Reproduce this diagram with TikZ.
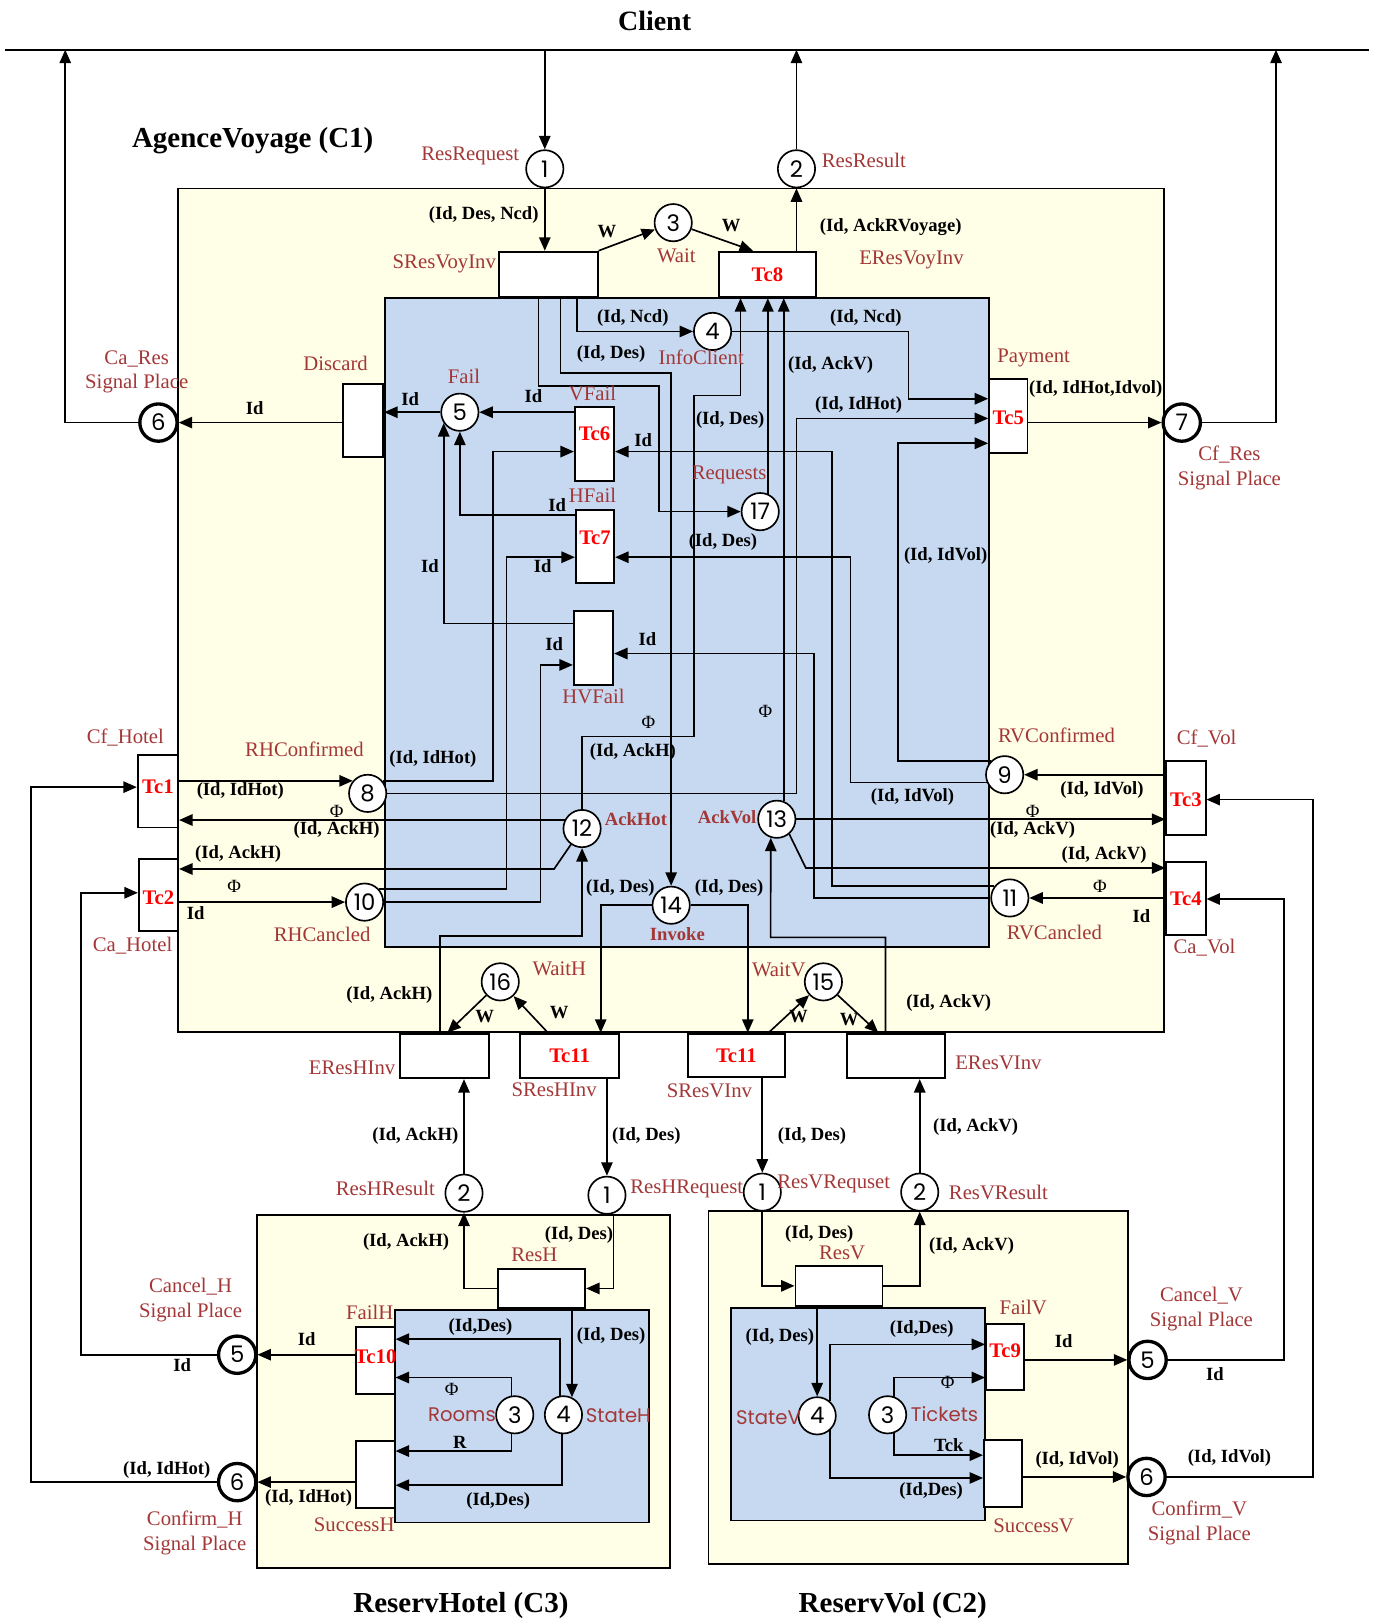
\documentclass[tikz,border=0pt]{standalone}
\usepackage{fontspec}
\setmainfont{Liberation Serif}
\newfontfamily\numfont{Poppins}
\usepackage{tikz}
\usetikzlibrary{arrows.meta}

\definecolor{boxyellow}{RGB}{255,254,230}
\definecolor{boxblue}{RGB}{198,217,240}
\definecolor{lblbrown}{RGB}{163,55,55}
\definecolor{tcred}{RGB}{255,0,0}

\begin{document}
\begin{tikzpicture}
[every node/.style={inner sep=0pt},
 >={Triangle[length=13pt, width=11pt]},
 place/.style={circle, minimum size=36pt, fill=white, line width=1.6pt, draw=black, font=\numfont\fontsize{22}{22}\selectfont},
 sigplace/.style={place, line width=3.2pt},
 trans/.style={rectangle, fill=white, line width=1.8pt, draw=black},
 tcname/.style={text=tcred, font=\bfseries\fontsize{20}{20}\selectfont},
 flow/.style={line width=1.6pt, ->, color=black},
 wire/.style={line width=1.6pt, color=black},
 lab/.style={text=lblbrown, font=\fontsize{20}{24}\selectfont, align=center},
 labsf/.style={text=lblbrown, font=\numfont\fontsize{19}{19}\selectfont},
 labb/.style={text=lblbrown, font=\bfseries\fontsize{18}{18}\selectfont},
 ins/.style={font=\bfseries\fontsize{18}{18}\selectfont},
 phi/.style={font=\fontsize{18}{18}\selectfont},
 heading/.style={font=\bfseries\fontsize{28}{28}\selectfont}]
\useasboundingbox (0pt, 0pt) rectangle (1330pt, -1568pt);

% component boxes
\filldraw [fill=boxyellow, line width=1.8pt] (172pt, -182pt) rectangle (1124pt, -996pt);
\filldraw [fill=boxblue, line width=1.8pt] (372pt, -288pt) rectangle (955pt, -914pt);
\filldraw [fill=boxyellow, line width=1.8pt] (248pt, -1173pt) rectangle (647pt, -1514pt);
\filldraw [fill=boxblue, line width=1.8pt] (381pt, -1265pt) rectangle (627pt, -1470pt);
\filldraw [fill=boxyellow, line width=1.8pt] (684pt, -1169pt) rectangle (1089pt, -1510pt);
\filldraw [fill=boxblue, line width=1.8pt] (706pt, -1263pt) rectangle (951pt, -1468pt);

% client line
\coordinate (clientL) at (5pt, -48pt);
\coordinate (clientR) at (1322pt, -48pt);
\coordinate (up6) at (63pt, -48pt);
\coordinate (up7) at (1232pt, -48pt);
\draw [wire] (clientL) -- (clientR);

% places of AgenceVoyage
\node (c1) [place] at (526pt, -163pt) {1};
\node (c2) [place] at (769pt, -163pt) {2};
\node (c3) [place] at (650pt, -215pt) {3};
\node (c4) [place] at (688pt, -320pt) {4};
\node (c5) [place] at (444pt, -398pt) {5};
\node (c6) [sigplace] at (153pt, -408pt) {6};
\node (c7) [sigplace] at (1141pt, -408pt) {7};
\node (c17) [place] at (734pt, -494pt) {17};
\node (c8) [place] at (355pt, -766pt) {8};
\node (c9) [place] at (970pt, -748pt) {9};
\node (c10) [place] at (352pt, -871pt) {10};
\node (c11) [place] at (975pt, -867pt) {11};
\node (c12) [place] at (562pt, -800pt) {12};
\node (c13) [place] at (750pt, -791pt) {13};
\node (c14) [place] at (648pt, -874pt) {14};
\node (c15) [place] at (795pt, -948pt) {15};
\node (c16) [place] at (483pt, -948pt) {16};

% places of ReservHotel and ReservVol
\node (h1) [place] at (586pt, -1154pt) {1};
\node (h2) [place] at (448pt, -1152pt) {2};
\node (h3) [place] at (497pt, -1366pt) {3};
\node (h4) [place] at (544pt, -1366pt) {4};
\node (h5) [sigplace] at (229pt, -1308pt) {5};
\node (h6) [sigplace] at (229pt, -1431pt) {6};
\node (v1) [place] at (736pt, -1151pt) {1};
\node (v2) [place] at (888pt, -1151pt) {2};
\node (v3) [place] at (857pt, -1366pt) {3};
\node (v4) [place] at (789pt, -1367pt) {4};
\node (v5) [sigplace] at (1108pt, -1313pt) {5};
\node (v6) [sigplace] at (1107pt, -1426pt) {6};

% transitions
\node (sresvoy) [trans, minimum width=95pt, minimum height=44pt] at (529.5pt, -265pt) {};
\node (tc8) [trans, minimum width=94pt, minimum height=44pt, label={[tcname]center:Tc8}] at (741pt, -265pt) {};
\node (discard) [trans, minimum width=39pt, minimum height=70pt] at (350.5pt, -406pt) {};
\node (tc6) [trans, minimum width=38pt, minimum height=71pt, label={[tcname, yshift=10pt]center:Tc6}] at (574pt, -428.5pt) {};
\node (tc7) [trans, minimum width=37pt, minimum height=71pt, label={[tcname, yshift=8pt]center:Tc7}] at (574.5pt, -527.5pt) {};
\node (hvfail) [trans, minimum width=38pt, minimum height=71pt] at (573pt, -625.5pt) {};
\node (tc5) [trans, minimum width=37pt, minimum height=71pt, label={[tcname, yshift=-2pt]center:Tc5}] at (973.5pt, -401.5pt) {};
\node (tc1) [trans, minimum width=39pt, minimum height=70pt, label={[tcname, yshift=4pt]center:Tc1}] at (152.5pt, -764pt) {};
\node (tc2) [trans, minimum width=38pt, minimum height=70pt, label={[tcname, yshift=-3pt]center:Tc2}] at (153pt, -864pt) {};
\node (tc3) [trans, minimum width=38pt, minimum height=71pt, label={[tcname, yshift=-2pt]center:Tc3}] at (1145pt, -770.5pt) {};
\node (tc4) [trans, minimum width=38pt, minimum height=71pt, label={[tcname]center:Tc4}] at (1145pt, -867.5pt) {};
\node (ereshinv) [trans, minimum width=86pt, minimum height=43pt] at (429pt, -1019.5pt) {};
\node (tc11h) [trans, minimum width=96pt, minimum height=43pt, label={[tcname]center:Tc11}] at (550pt, -1019.5pt) {};
\node (tc11v) [trans, minimum width=94pt, minimum height=42pt, label={[tcname]center:Tc11}] at (711pt, -1019pt) {};
\node (eresvinv) [trans, minimum width=94pt, minimum height=43pt] at (865pt, -1019.5pt) {};
\node (resh) [trans, minimum width=84pt, minimum height=38pt] at (523pt, -1244pt) {};
\node (tc10) [trans, minimum width=37pt, minimum height=65pt, label={[tcname, yshift=4pt]center:Tc10}] at (362.5pt, -1313.5pt) {};
\node (successh) [trans, minimum width=37pt, minimum height=65pt] at (362.5pt, -1423.5pt) {};
\node (resv) [trans, minimum width=84pt, minimum height=39pt] at (810pt, -1241.5pt) {};
\node (tc9) [trans, minimum width=37pt, minimum height=64pt, label={[tcname, yshift=6pt]center:Tc9}] at (970.5pt, -1310pt) {};
\node (successv) [trans, minimum width=37pt, minimum height=65pt] at (968.5pt, -1422.5pt) {};

% client side arcs
\draw [flow] (c1 |- clientL) -- (c1);
\draw [flow] (c2) -- (c2 |- clientR);
\draw [flow] (c6) -| (up6);
\draw [flow] (c7) -| (up7);

% AgenceVoyage arcs
\draw [flow] (c1) -- (c1 |- sresvoy.north);
\draw [flow] (sresvoy.north east) -- (c3);
\draw [flow] (c3) -- (tc8.north -| 727pt,0pt);
\draw [flow] (tc8.north -| c2) -- (c2);
\draw [flow] (discard.west |- c6) -- (c6);
\draw [flow] (c5) -- (discard.east |- c5);
\draw [flow] (tc6.west |- c5) -- (c5);
\draw [flow] (tc5.east |- c7) -- (c7);
\draw [flow] (sresvoy.south -| 520pt,0pt) -- (520pt, -373pt) -- (636pt, -373pt) -- (636pt, -494pt) -- (c17);
\draw [flow] (sresvoy.south -| 541pt,0pt) -- (541pt, -360pt) -- (648pt, -360pt) -- (c14);
\draw [flow] (sresvoy.south -| 557pt,0pt) |- (c4);
\draw [flow] (c4) -- (877pt, -320pt) -- (877pt, -385pt) -- (tc5.west |- 0pt,-385pt);
\draw [flow] (c12) -- (562pt, -711pt) -- (670pt, -711pt) -- (670pt, -382pt) -- (715pt, -382pt) -- (tc8.south -| 715pt,0pt);
\draw [flow] (c17.67) -- (c17.67 |- tc8.south);
\draw [flow] (c13.69) -- (c13.69 |- tc8.south);
\draw [flow] (c8) -- (769pt, -766pt) -- (769pt, -404pt) -- (tc5.west |- 0pt,-404pt);
\draw [flow] (c8.40) -- (c8.40 -| 476pt,0pt) -- (476pt, -436pt) -- (tc6.west |- 0pt,-436pt);
\draw [flow] (tc1.east |- c8.140) -- (c8.140);
\draw [flow] (c10.42) -- (c10.42 -| 489pt,0pt) -- (489pt, -538pt) -- (tc7.west |- 0pt,-538pt);
\draw [flow] (c10) -- (522pt, -871pt) -- (522pt, -642pt) -- (hvfail.west |- 0pt,-642pt);
\draw [flow] (tc2.east |- c10) -- (c10);
\draw [flow] (c12.154) -- (tc1.east |- c12.154);
\draw [flow] (c12.235) -- (535pt, -839pt) -- (tc2.east |- 0pt,-839pt);
\draw [flow] (ereshinv.north -| 425pt,0pt) -- (425pt, -904pt) -- (562pt, -904pt) -- (c12);
\draw [flow] (c13) -- (tc3.west |- c13);
\draw [flow] (c13.310) -- (778pt, -838pt) -- (tc4.west |- 0pt,-838pt);
\draw [flow] (tc4.west |- c11) -- (c11);
\draw [flow] (tc3.west |- c9) -- (c9);
\draw [flow] (c9.134) -- (c9.134 -| 867pt,0pt) -- (867pt, -428pt) -- (tc5.west |- 0pt,-428pt);
\draw [flow] (c9.203) -- (c9.203 -| 821pt,0pt) -- (821pt, -538pt) -- (tc7.east |- 0pt,-538pt);
\draw [flow] (c11.142) -- (c11.142 -| 803pt,0pt) -- (803pt, -436pt) -- (tc6.east |- 0pt,-436pt);
\draw [flow] (c11) -- (786pt, -867pt) -- (786pt, -631pt) -- (hvfail.east |- 0pt,-631pt);
\draw [flow] (tc7.west |- 0pt,-497pt) -| (c5.south);
\draw [flow] (hvfail.west |- 0pt,-602pt) -| (c5.214);
\draw [flow] (c14) -| (tc11h.north -| 580pt,0pt);
\draw [flow] (c14) -| (tc11v.north -| 722pt,0pt);
\draw [flow] (eresvinv.north -| 855pt,0pt) -- (855pt, -905pt) -- (744pt, -905pt) -- (c13.252);
\draw [flow] (tc11h.north -| 529pt,0pt) -- (c16);
\draw [flow] (c16) -- (ereshinv.north -| 432pt,0pt);
\draw [flow] (tc11v.north -| 742pt,0pt) -- (c15);
\draw [flow] (c15) -- (eresvinv.north -| 848pt,0pt);

% invocation arcs
\draw [flow] (tc11h.south -| h1) -- (h1);
\draw [flow] (h2) -- (h2 |- ereshinv.south);
\draw [flow] (tc11v.south -| v1) -- (v1);
\draw [flow] (v2) -- (v2 |- eresvinv.south);

% ReservHotel arcs
\draw [flow] (h1.290) |- (resh.east);
\draw [flow] (resh.west) -| (h2);
\draw [flow] (resh.south -| h4.64) -- (h4.64);
\draw [flow] (h4.100) |- (tc10.east |- 0pt,-1293pt);
\draw [flow] (h3.100) |- (tc10.east |- 0pt,-1330pt);
\draw [flow] (h3.260) |- (successh.east |- 0pt,-1401pt);
\draw [flow] (h4.265) |- (successh.east |- 0pt,-1434pt);
\draw [flow] (tc10.west |- h5) -- (h5);
\draw [flow] (successh.west |- h6) -- (h6);
\draw [flow] (h5) -- (78pt, -1308pt) -- (78pt, -862pt) -- (tc2.west |- 0pt,-862pt);
\draw [flow] (h6) -- (30pt, -1431pt) -- (30pt, -760pt) -- (tc1.west |- 0pt,-760pt);

% ReservVol arcs
\draw [flow] (v1) |- (resv.west);
\draw [flow] (resv.east) -| (v2);
\draw [flow] (resv.south -| v4) -- (v4);
\draw [flow] (v4.48) |- (tc9.west |- 0pt,-1298pt);
\draw [flow] (v3.70) |- (tc9.west |- 0pt,-1330pt);
\draw [flow] (v3.290) |- (successv.west |- 0pt,-1405pt);
\draw [flow] (v4.312) |- (successv.west |- 0pt,-1427pt);
\draw [flow] (tc9.east |- v5) -- (v5);
\draw [flow] (successv.east |- v6) -- (v6);
\draw [flow] (v5) -- (1240pt, -1313pt) -- (1240pt, -868pt) -- (tc4.east |- 0pt,-868pt);
\draw [flow] (v6) -- (1268pt, -1426pt) -- (1268pt, -772pt) -- (tc3.east |- 0pt,-772pt);

% headings
\node (hClient) [heading, font=\bfseries\fontsize{27}{27}\selectfont] at (632pt, -20pt) {Client};
\node (hAgence) [heading] at (244pt, -136pt) {AgenceVoyage (C1)};
\node (hHotel) [heading] at (445pt, -1550pt) {ReservHotel (C3)};
\node (hVol) [heading] at (862pt, -1550pt) {ReservVol (C2)};

% place and transition names
\node (nResRequest) [lab] at (454pt, -151pt) {ResRequest};
\node (nResResult) [lab] at (834pt, -155pt) {ResResult};
\node (nSResVoyInv) [lab] at (429pt, -255pt) {SResVoyInv};
\node (nWait) [lab] at (653pt, -247pt) {Wait};
\node (nEResVoyInv) [lab] at (880pt, -251pt) {EResVoyInv};
\node (nDiscard) [lab] at (324pt, -351pt) {Discard};
\node (nFail) [lab] at (448pt, -363pt) {Fail};
\node (nVFail) [lab] at (572pt, -380pt) {VFail};
\node (nInfoClient) [lab] at (677pt, -345pt) {InfoClient};
\node (nPayment) [lab] at (998pt, -346pt) {Payment};
\node (nRequests) [lab] at (704pt, -459pt) {Requests};
\node (nHFail) [lab] at (572pt, -478pt) {HFail};
\node (nHVFail) [lab] at (573pt, -672pt) {HVFail};
\node (nCaRes) [lab] at (132pt, -359pt) {Ca\_Res\\Signal Place};
\node (nCfRes) [lab] at (1187pt, -452pt) {Cf\_Res\\Signal Place};
\node (nCfHotel) [lab] at (121pt, -712pt) {Cf\_Hotel};
\node (nRHConfirmed) [lab] at (294pt, -723pt) {RHConfirmed};
\node (nCaHotel) [lab] at (128pt, -913pt) {Ca\_Hotel};
\node (nRHCancled) [lab] at (311pt, -902pt) {RHCancled};
\node (nRVConfirmed) [lab] at (1020pt, -710pt) {RVConfirmed};
\node (nCfVol) [lab] at (1165pt, -713pt) {Cf\_Vol};
\node (nRVCancled) [lab] at (1018pt, -900pt) {RVCancled};
\node (nCaVol) [lab] at (1163pt, -915pt) {Ca\_Vol};
\node (nAckHot) [labb] at (614pt, -791pt) {AckHot};
\node (nAckVol) [labb] at (702pt, -789pt) {AckVol};
\node (nInvoke) [labb] at (654pt, -902pt) {Invoke};
\node (nWaitH) [lab] at (540pt, -935pt) {WaitH};
\node (nWaitV) [lab] at (752pt, -936pt) {WaitV};
\node (nEResHInv) [lab] at (340pt, -1031pt) {EResHInv};
\node (nSResHInv) [lab] at (535pt, -1052pt) {SResHInv};
\node (nSResVInv) [lab] at (685pt, -1053pt) {SResVInv};
\node (nEResVInv) [lab] at (964pt, -1026pt) {EResVInv};
\node (nResHResult) [lab] at (372pt, -1147pt) {ResHResult};
\node (nResHRequest) [lab] at (663pt, -1148pt) {ResHRequest};
\node (nResH) [lab] at (516pt, -1212pt) {ResH};
\node (nFailH) [lab] at (357pt, -1267pt) {FailH};
\node (nSuccessH) [lab] at (342pt, -1472pt) {SuccessH};
\node (nCancelH) [lab] at (184pt, -1255pt) {Cancel\_H\\Signal Place};
\node (nConfirmH) [lab] at (188pt, -1480pt) {Confirm\_H\\Signal Place};
\node (nRooms) [labsf] at (446pt, -1366pt) {Rooms};
\node (nStateH) [labsf] at (597pt, -1367pt) {StateH};
\node (nResVRequset) [lab] at (805pt, -1143pt) {ResVRequset};
\node (nResVResult) [lab] at (964pt, -1151pt) {ResVResult};
\node (nResV) [lab] at (813pt, -1210pt) {ResV};
\node (nFailV) [lab] at (988pt, -1262pt) {FailV};
\node (nSuccessV) [lab] at (998pt, -1473pt) {SuccessV};
\node (nCancelV) [lab] at (1160pt, -1264pt) {Cancel\_V\\Signal Place};
\node (nConfirmV) [lab] at (1158pt, -1470pt) {Confirm\_V\\Signal Place};
\node (nStateV) [labsf] at (742pt, -1369pt) {StateV};
\node (nTickets) [labsf] at (912pt, -1365pt) {Tickets};

% arc inscriptions
\node (i1) [ins] at (467pt, -208pt) {(Id, Des, Ncd)};
\node (i2) [ins] at (586pt, -224pt) {W};
\node (i3) [ins] at (706pt, -218pt) {W};
\node (i4) [ins] at (860pt, -219pt) {(Id, AckRVoyage)};
\node (i5) [ins] at (246pt, -394pt) {Id};
\node (i6) [ins] at (396pt, -385pt) {Id};
\node (i7) [ins] at (515pt, -382pt) {Id};
\node (i8) [ins] at (1058pt, -376pt) {(Id, IdHot,Idvol)};
\node (i9) [ins] at (611pt, -307pt) {(Id, Ncd)};
\node (i10) [ins] at (590pt, -342pt) {(Id, Des)};
\node (i11) [ins] at (836pt, -307pt) {(Id, Ncd)};
\node (i12) [ins] at (802pt, -352pt) {(Id, AckV)};
\node (i13) [ins] at (829pt, -391pt) {(Id, IdHot)};
\node (i14) [ins] at (705pt, -406pt) {(Id, Des)};
\node (i15) [ins] at (621pt, -425pt) {Id};
\node (i16) [ins] at (538pt, -488pt) {Id};
\node (i17) [ins] at (698pt, -523pt) {(Id, Des)};
\node (i18) [ins] at (415pt, -547pt) {Id};
\node (i19) [ins] at (524pt, -547pt) {Id};
\node (i20) [ins] at (913pt, -537pt) {(Id, IdVol)};
\node (i21) [ins] at (535pt, -622pt) {Id};
\node (i22) [ins] at (625pt, -617pt) {Id};
\node (i23) [phi] at (626pt, -697pt) {Φ};
\node (i24) [ins] at (611pt, -726pt) {(Id, AckH)};
\node (i25) [phi] at (739pt, -687pt) {Φ};
\node (i26) [ins] at (418pt, -733pt) {(Id, IdHot)};
\node (i27) [ins] at (232pt, -764pt) {(Id, IdHot)};
\node (i28) [phi] at (325pt, -783pt) {Φ};
\node (i29) [ins] at (325pt, -801pt) {(Id, AckH)};
\node (i30) [ins] at (230pt, -825pt) {(Id, AckH)};
\node (i31) [phi] at (226pt, -856pt) {Φ};
\node (i32) [ins] at (189pt, -882pt) {Id};
\node (i33) [ins] at (881pt, -770pt) {(Id, IdVol)};
\node (i34) [ins] at (1064pt, -763pt) {(Id, IdVol)};
\node (i35) [phi] at (997pt, -783pt) {Φ};
\node (i36) [ins] at (997pt, -801pt) {(Id, AckV)};
\node (i37) [ins] at (1066pt, -826pt) {(Id, AckV)};
\node (i38) [phi] at (1062pt, -856pt) {Φ};
\node (i39) [ins] at (1102pt, -885pt) {Id};
\node (i40) [ins] at (599pt, -857pt) {(Id, Des)};
\node (i41) [ins] at (704pt, -857pt) {(Id, Des)};
\node (i42) [ins] at (376pt, -961pt) {(Id, AckH)};
\node (i43) [ins] at (468pt, -981pt) {W};
\node (i44) [ins] at (540pt, -978pt) {W};
\node (i45) [ins] at (771pt, -981pt) {W};
\node (i46) [ins] at (820pt, -984pt) {W};
\node (i47) [ins] at (916pt, -968pt) {(Id, AckV)};
\node (i48) [ins] at (401pt, -1097pt) {(Id, AckH)};
\node (i49) [ins] at (624pt, -1097pt) {(Id, Des)};
\node (i50) [ins] at (784pt, -1097pt) {(Id, Des)};
\node (i51) [ins] at (942pt, -1088pt) {(Id, AckV)};
\node (i52) [ins] at (392pt, -1199pt) {(Id, AckH)};
\node (i53) [ins] at (559pt, -1192pt) {(Id, Des)};
\node (i54) [ins] at (464pt, -1281pt) {(Id,Des)};
\node (i55) [ins] at (590pt, -1290pt) {(Id, Des)};
\node (i56) [phi] at (436pt, -1341pt) {Φ};
\node (i57) [ins] at (444pt, -1393pt) {R};
\node (i58) [ins] at (481pt, -1449pt) {(Id,Des)};
\node (i59) [ins] at (296pt, -1293pt) {Id};
\node (i60) [ins] at (176pt, -1318pt) {Id};
\node (i61) [ins] at (161pt, -1419pt) {(Id, IdHot)};
\node (i62) [ins] at (298pt, -1446pt) {(Id, IdHot)};
\node (i63) [ins] at (791pt, -1191pt) {(Id, Des)};
\node (i64) [ins] at (938pt, -1203pt) {(Id, AckV)};
\node (i65) [ins] at (753pt, -1291pt) {(Id, Des)};
\node (i66) [ins] at (890pt, -1283pt) {(Id,Des)};
\node (i67) [phi] at (915pt, -1335pt) {Φ};
\node (i68) [ins] at (916pt, -1395pt) {Tck};
\node (i69) [ins] at (899pt, -1440pt) {(Id,Des)};
\node (i70) [ins] at (1027pt, -1295pt) {Id};
\node (i71) [ins] at (1040pt, -1410pt) {(Id, IdVol)};
\node (i72) [ins] at (1173pt, -1327pt) {Id};
\node (i73) [ins] at (1187pt, -1408pt) {(Id, IdVol)};
\end{tikzpicture}
\end{document}
